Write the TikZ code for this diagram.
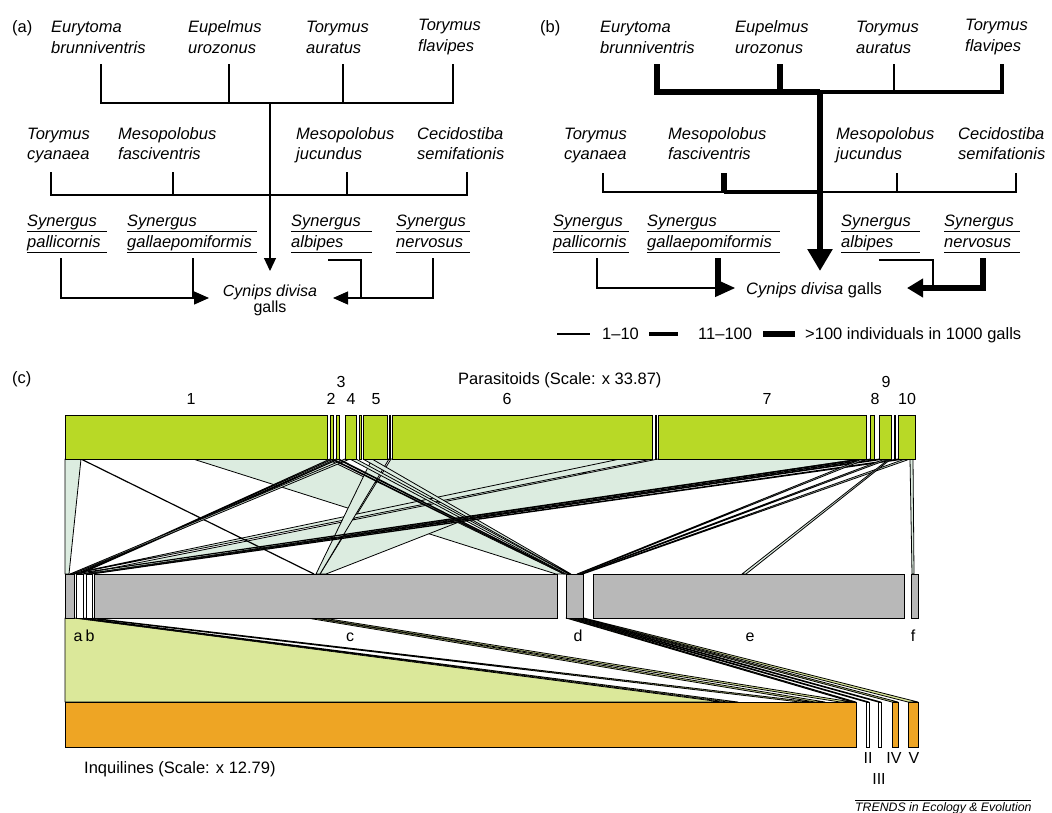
\documentclass[tikz,border=0pt]{standalone}
\usepackage{fontspec}
\setmainfont{Liberation Sans}
\usetikzlibrary{arrows.meta}
\definecolor{pgreen}{RGB}{184,217,38}
\definecolor{pband}{RGB}{220,236,224}
\definecolor{pgray}{RGB}{184,184,184}
\definecolor{yband}{RGB}{219,232,154}
\definecolor{porange}{RGB}{238,165,36}
\newcommand\tband[4]{\filldraw[tb] (#1,459) -- (#2,459) -- (#4,574) -- (#3,574) -- cycle;}
\newcommand\bband[4]{\filldraw[bb] (#1,618) -- (#2,618) -- (#4,702) -- (#3,702) -- cycle;}
\begin{document}
\begin{tikzpicture}[x=1pt,y=-1pt,
  txt/.style={inner sep=0pt, anchor=base west, font=\fontsize{16.5}{20}\selectfont},
  sp/.style={inner sep=0pt, anchor=base west, font=\fontsize{16.5}{20}\selectfont\itshape},
  ctr/.style={inner sep=0pt, anchor=base, font=\fontsize{16}{20}\selectfont},
  ln/.style={line width=1.2pt},
  md/.style={line width=3.2pt},
  tk/.style={line width=5.5pt},
  ul/.style={line width=1pt},
  tb/.style={fill=pband, draw=black, line width=0.8pt, line join=round},
  bb/.style={fill=yband, draw=black, line width=0.8pt, line join=round},
  gbar/.style={fill=pgreen, draw=black, line width=1pt},
  hbar/.style={fill=pgray, draw=black, line width=1pt},
  wbar/.style={fill=white, draw=black, line width=1pt},
  obar/.style={fill=porange, draw=black, line width=1pt},
  tipS/.style={-{Triangle[length=13pt,width=12pt]}},
  tipB/.style={-{Triangle[length=20pt,width=18pt]}},
  tipM/.style={-{Triangle[length=22pt,width=24pt]}}
]
\useasboundingbox (0,0) rectangle (1052,812);

%================ panel (a) ================
\node[txt] (la) at (12,32) {(a)};
\node[sp] (a11) at (51,32) {Eurytoma};
\node[sp] (a12) at (51,53) {brunniventris};
\node[sp] (a21) at (188,32) {Eupelmus};
\node[sp] (a22) at (188,53) {urozonus};
\node[sp] (a31) at (306,32) {Torymus};
\node[sp] (a32) at (306,53) {auratus};
\node[sp] (a41) at (418,30) {Torymus};
\node[sp] (a42) at (418,51) {flavipes};
\node[sp] (a51) at (27,139) {Torymus};
\node[sp] (a52) at (27,159) {cyanaea};
\node[sp] (a61) at (118,139) {Mesopolobus};
\node[sp] (a62) at (118,159) {fasciventris};
\node[sp] (a71) at (296,139) {Mesopolobus};
\node[sp] (a72) at (296,159) {jucundus};
\node[sp] (a81) at (417,139) {Cecidostiba};
\node[sp] (a82) at (417,159) {semifationis};
\node[sp] (a91) at (27,226) {Synergus};
\node[sp] (a92) at (27,247.6) {pallicornis};
\node[sp] (aA1) at (127,226) {Synergus};
\node[sp] (aA2) at (127,247.6) {gallaepomiformis};
\node[sp] (aB1) at (291,226) {Synergus};
\node[sp] (aB2) at (291,247.6) {albipes};
\node[sp] (aC1) at (396,226) {Synergus};
\node[sp] (aC2) at (396,247.6) {nervosus};
\foreach \n/\w in {a91/80,a92/80,aA1/130,aA2/130,aB1/81,aB2/81,aC1/74,aC2/74}
  \draw[ul] (\n.base west) ++(0,5) -- ++(\w,0);
\node[ctr] (acyn) at (270,296) {\itshape Cynips divisa};
\node[ctr] (agal) at (270,312) {galls};

\coordinate (aT1) at (101,64); \coordinate (aT2) at (229,64);
\coordinate (aT3) at (343,64); \coordinate (aT4) at (453,64);
\coordinate (aH1) at (270,103);
\coordinate (aM1) at (51,172); \coordinate (aM2) at (173,172);
\coordinate (aM3) at (347,172); \coordinate (aM4) at (467,172);
\coordinate (aH2) at (270,195);
\coordinate (aTip) at (270,271);
\draw[ln] (aT1) |- (aT4 |- aH1) -- (aT4);
\draw[ln] (aT2) -- (aT2 |- aH1);
\draw[ln] (aT3) -- (aT3 |- aH1);
\draw[ln] (aM1) |- (aM4 |- aH2) -- (aM4);
\draw[ln] (aM2) -- (aM2 |- aH2);
\draw[ln] (aM3) -- (aM3 |- aH2);
\draw[ln,tipS] (aH1) -- (aTip);
\coordinate (aS1) at (61,258); \coordinate (aS2) at (193,258);
\coordinate (aS3) at (328,260); \coordinate (aS4) at (433,258);
\coordinate (aL) at (209,298); \coordinate (aR) at (333,298);
\coordinate (aK) at (361,298);
\draw[ln,-{Triangle[length=15pt,width=13pt]}] (aS1) |- (aL);
\draw[ln] (aS2) -- (aS2 |- aL);
\draw[ln] (aS3) -| (aK);
\draw[ln,-{Triangle[length=15pt,width=13pt]}] (aS4) |- (aR);

%================ panel (b) ================
\node[txt] (lb) at (540,32) {(b)};
\node[sp] (b11) at (600,32) {Eurytoma};
\node[sp] (b12) at (600,53) {brunniventris};
\node[sp] (b21) at (735,32) {Eupelmus};
\node[sp] (b22) at (735,53) {urozonus};
\node[sp] (b31) at (856,32) {Torymus};
\node[sp] (b32) at (856,53) {auratus};
\node[sp] (b41) at (965,30) {Torymus};
\node[sp] (b42) at (965,51) {flavipes};
\node[sp] (b51) at (564,139) {Torymus};
\node[sp] (b52) at (564,159) {cyanaea};
\node[sp] (b61) at (668,139) {Mesopolobus};
\node[sp] (b62) at (668,159) {fasciventris};
\node[sp] (b71) at (836,139) {Mesopolobus};
\node[sp] (b72) at (836,159) {jucundus};
\node[sp] (b81) at (958,139) {Cecidostiba};
\node[sp] (b82) at (958,159) {semifationis};
\node[sp] (b91) at (553,226) {Synergus};
\node[sp] (b92) at (553,247.6) {pallicornis};
\node[sp] (bA1) at (647,226) {Synergus};
\node[sp] (bA2) at (647,247.6) {gallaepomiformis};
\node[sp] (bB1) at (841,226) {Synergus};
\node[sp] (bB2) at (841,247.6) {albipes};
\node[sp] (bC1) at (944,226) {Synergus};
\node[sp] (bC2) at (944,247.6) {nervosus};
\foreach \n/\w in {b91/76,b92/76,bA1/133,bA2/133,bB1/79,bB2/79,bC1/76,bC2/76}
  \draw[ul] (\n.base west) ++(0,5) -- ++(\w,0);
\node[txt] (bcyn) at (746,294) {\itshape Cynips divisa\upshape{} galls};

\coordinate (bT1) at (657,64); \coordinate (bT2) at (780,64);
\coordinate (bT3) at (894,64); \coordinate (bT4) at (1002,64);
\coordinate (bH1) at (820,92);
\coordinate (bM1) at (603,173); \coordinate (bM2) at (724,173);
\coordinate (bM3) at (897,173); \coordinate (bM4) at (1016,173);
\coordinate (bH2) at (820,192);
\coordinate (bTip) at (820,271);
\draw[tk] (bT1) -- (bT1 |- bH1) -- (bH1);
\draw[md] (bH1) -- (bT4 |- bH1) -- (bT4);
\draw[tk] (bT2) -- (bT2 |- bH1);
\draw[ln] (bT3) -- (bT3 |- bH1);
\draw[ln] (bM1) |- (bM4 |- bH2) -- (bM4);
\draw[md] (bM2 |- bH2) -- (bH2);
\draw[tk] (bM2) -- (bM2 |- bH2);
\draw[ln] (bM3) -- (bM3 |- bH2);
\draw[tk,tipM] ([yshift=2pt]bH1) -- (bTip);
\coordinate (bS1) at (597,258); \coordinate (bS2) at (718,258);
\coordinate (bS3) at (879,260); \coordinate (bS4) at (983,258);
\coordinate (bL) at (735,288); \coordinate (bR) at (907,288);
\coordinate (bK) at (933,288);
\draw[ln,tipB] (bS1) |- (bL);
\draw[tk] (bS2) -- (bS2 |- bL);
\draw[ln] (bS3) -| (bK);
\draw[tk,-{Triangle[length=16pt,width=18pt]}] (bS4) |- (bR);

% legend
\coordinate (g1a) at (557,334); \coordinate (g1b) at (590,334);
\coordinate (g2a) at (649,334); \coordinate (g2b) at (678,334);
\coordinate (g3a) at (763,334); \coordinate (g3b) at (795,334);
\draw[ln] (g1a) -- (g1b);
\draw[md] (g2a) -- (g2b);
\draw[tk] (g3a) -- (g3b);
\node[txt] (gt1) at (602,339.5) {1--10};
\node[txt] (gt2) at (698,339.5) {11--100};
\node[txt] (gt3) at (805,339.5) {>100 individuals in 1000 galls};

%================ panel (c) ================
\node[txt] (lc) at (12,383) {(c)};
\node[txt] (par) at (458,384) {Parasitoids (Scale: x 33.87)};

% top web bands
\tband{65}{81}{65}{69}
\tband{193}{327}{556}{564}
\tband{391}{620}{320}{326}
\tband{620}{652}{70}{72}
\tband{658}{860}{82}{86}
\tband{372}{389}{316}{320}
\draw[ln] (81,459) -- (314,574);
\tband{330}{333}{76}{78}
\tband{336}{339}{78}{80}
\tband{345}{350}{70}{73}
\tband{331}{333}{564}{565}
\tband{337}{339}{565}{566}
\tband{350}{356}{566}{569}
\tband{363}{372}{569}{571}
\tband{860}{866}{72}{74}
\tband{870}{874}{86}{88}
\tband{879}{885}{88}{90}
\tband{898}{905}{90}{92}
\tband{862}{866}{577}{579}
\tband{885}{889}{579}{581}
\tband{905}{910}{581}{583}
\tband{889}{891}{742}{746}
\tband{910}{913}{912}{914}

% bottom web bands
\bband{65}{74}{65}{722}
\bband{76}{83}{728}{738}
\bband{86}{92}{800}{812}
\bband{307}{315}{815}{825}
\bband{315}{323}{840}{852}
\bband{566}{570}{852}{856}
\bband{570}{573}{866}{869}
\bband{573}{576}{878}{881}
\bband{576}{580}{892}{898}
\bband{580}{584}{908}{918}

% parasitoid bar
\foreach \xa/\xb in {65/327,330/333,336/339,345/356,359/361,363/387,389/390.5,392/652,655/656.5,658/866,870/874,879/891,894/895.5,898/915}
  \filldraw[gbar] (\xa,415) rectangle (\xb,459);
\foreach \x/\y/\t in {191/404/1,331/404/2,341/387/3,351/404/4,376/404/5,507/404/6,767/404/7,875/404/8,886/387/9,907/404/10}
  \node[ctr] (n\t) at (\x,\y) {\t};

% gall bar
\filldraw[hbar] (65,574) rectangle (74,618);
\filldraw[wbar] (76,574) rectangle (83,618);
\filldraw[wbar] (86,574) rectangle (92,618);
\filldraw[hbar] (94,574) rectangle (557,618);
\filldraw[hbar] (566,574) rectangle (583,618);
\filldraw[hbar] (593,574) rectangle (904,618);
\filldraw[hbar] (911,574) rectangle (918,618);
\foreach \x/\t in {78/a,90/b,350/c,578/d,750/e,913/f}
  \node[ctr] (g\t) at (\x,641) {\t};

% inquiline bar
\filldraw[obar] (65,702) rectangle (856,747);
\filldraw[wbar] (866,702) rectangle (869,747);
\filldraw[wbar] (878,702) rectangle (881,747);
\filldraw[obar] (892,702) rectangle (898,747);
\filldraw[obar] (908,702) rectangle (918,747);
\node[ctr] (iII) at (868,763.5) {II};
\node[ctr] (iIV) at (894,763.5) {IV};
\node[ctr] (iV) at (914,763.5) {V};
\node[ctr] (iIII) at (879,784) {III};
\node[txt] (inq) at (84,773) {Inquilines (Scale: x 12.79)};

% credit
\coordinate (cr1) at (855,800); \coordinate (cr2) at (1031,800);
\draw[line width=0.8pt] (cr1) -- (cr2);
\node[inner sep=0pt, anchor=base west, font=\fontsize{12.3}{14}\selectfont\itshape] (cred) at (855,811) {TRENDS in Ecology \& Evolution};
\end{tikzpicture}
\end{document}
